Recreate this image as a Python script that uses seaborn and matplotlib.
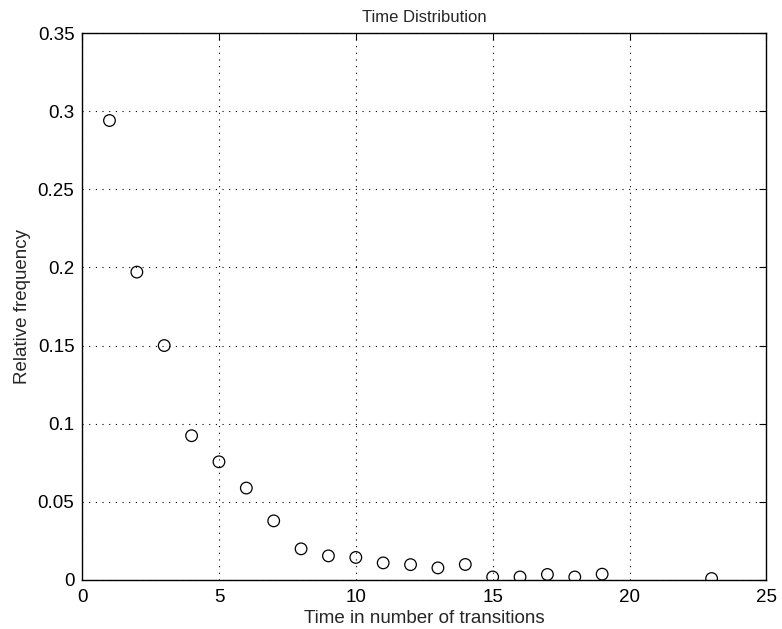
import numpy as np
import pandas as pd
import matplotlib
matplotlib.use("Agg")
import matplotlib.pyplot as plt
import seaborn as sns

# data
time_steps = [1, 2, 3, 4, 5, 6, 7, 8, 9, 10, 11, 12, 13, 14, 15, 16, 17, 18, 19, 23]
rel_freq = [0.294, 0.197, 0.150, 0.0923, 0.0756, 0.0588, 0.0378, 0.0199, 0.0154, 0.0144,
            0.0109, 0.0098, 0.0077, 0.0099, 0.0019, 0.0019, 0.0035, 0.0019, 0.0037, 0.0009]
x_ticks = [0, 5, 10, 15, 20, 25]
y_ticks = [0, 0.05, 0.1, 0.15, 0.2, 0.25, 0.3, 0.35]
y_tick_labels = ["0", "0.05", "0.1", "0.15", "0.2", "0.25", "0.3", "0.35"]

df = pd.DataFrame({"time": time_steps, "freq": rel_freq})

sns.set_style("white")
plt.rcParams["font.family"] = ["Liberation Sans", "DejaVu Sans"]

fig = plt.figure(figsize=(7.82, 6.29), dpi=100)
ax = fig.add_axes([0.105, 0.078, 0.875, 0.8695])

sns.scatterplot(data=df, x="time", y="freq", ax=ax, marker="o", s=70,
                facecolors="none", edgecolor="black", linewidth=0.9, zorder=3)

ax.set_xlim(0, 25)
ax.set_ylim(0, 0.35)
ax.set_xticks(x_ticks)
ax.set_yticks(y_ticks)
ax.set_yticklabels(y_tick_labels)
ax.tick_params(direction="in", length=5, labelsize=13.5, colors="black",
               top=True, right=True)
ax.tick_params(axis="x", pad=6.5)
ax.tick_params(axis="y", pad=5.5)
ax.grid(True, linestyle=(0, (1, 5)), color="black", linewidth=0.8)

for sp in ax.spines.values():
    sp.set_color("black")
    sp.set_linewidth(1.0)

ax.set_xlabel("Time in number of transitions", fontsize=13.5, labelpad=3)
ax.set_ylabel("Relative frequency", fontsize=13.5, labelpad=5)
ax.set_title("Time Distribution", fontsize=12, pad=8)

fig.savefig("out.png", dpi=100)
